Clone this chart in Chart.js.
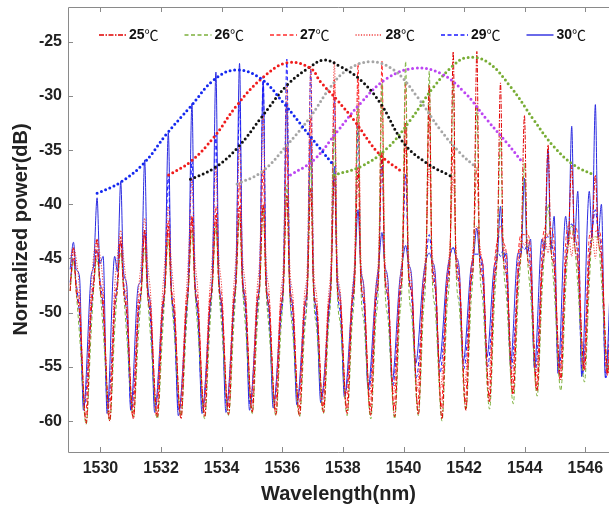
<!DOCTYPE html>
<html>
<head>
<meta charset="utf-8">
<script src="https://cdn.jsdelivr.net/npm/chart.js@4.4.1/dist/chart.umd.min.js"></script>
<style>
  html, body { margin: 0; padding: 0; background: #fff; }
  canvas { display: block; }
</style>
</head>
<body>
<canvas id="chart" width="609" height="507"></canvas>
<script>
// axis ticks
const xTicks = [1530, 1532, 1534, 1536, 1538, 1540, 1542, 1544, 1546];
const yTicks = [-60, -55, -50, -45, -40, -35, -30, -25];

// comb peak wavelengths (nm), shared by all temperatures
const combNm = [1529.11,1529.89,1530.67,1531.46,1532.24,1533.02,1533.81,1534.59,1535.37,1536.15,1536.94,1537.72,1538.50,1539.29,1540.07,1540.85,1541.64,1542.42,1543.20,1543.99,1544.77,1545.55,1546.33];

// per temperature: peak top, shoulder, side lobe, valley floor (dB), one value per comb line
const pk30 = [-43.5,-39.4,-37.9,-35.9,-33.4,-30.7,-27.8,-27.0,-28.7,-30.6,-33.8,-36.5,-40.5,-42.6,-43.8,-44.5,-44.0,-42.2,-40.2,-37.6,-35.0,-32.8,-30.8];
const sh30 = [-46.0,-45.5,-46.2,-46.8,-47.0,-46.6,-46.0,-45.6,-46.2,-46.7,-47.0,-46.4,-45.8,-45.6,-45.4,-45.2,-44.8,-44.8,-45.0,-44.6,-44.2,-43.5,-43.0];
const lb30 = [-46.7,-44.8,-47.5,-49.6,-50.4,-49.8,-49.5,-49.2,-49.8,-49.6,-50.2,-48.8,-48.0,-47.2,-46.8,-46.5,-46.0,-45.6,-44.5,-43.2,-41.1,-38.8,-40.0];
const vl30 = [-59.0,-59.3,-59.0,-59.2,-59.5,-59.3,-59.2,-59.0,-58.8,-58.5,-58.3,-57.8,-57.0,-56.4,-54.7,-54.6,-54.5,-54.1,-54.7,-55.1,-55.6,-55.9,-56.0];

const pk29 = [-45.0,-44.2,-43.5,-42.4,-37.3,-36.0,-33.6,-30.5,-28.2,-26.6,-27.5,-30.1,-32.6,-35.5,-37.2,-42.8,-44.0,-44.6,-44.8,-44.2,-43.0,-41.8,-40.5];
const sh29 = [-47.2,-46.8,-47.0,-47.5,-47.2,-46.6,-46.4,-46.0,-46.5,-46.9,-47.3,-46.8,-46.2,-45.8,-45.6,-45.2,-44.9,-44.6,-44.2,-43.8,-43.4,-43.0,-42.6];
const lb29 = [-50.2,-49.6,-50.5,-51.0,-51.4,-50.8,-50.5,-50.0,-50.6,-51.0,-50.8,-50.2,-49.6,-49.0,-48.6,-48.0,-47.6,-47.2,-46.8,-46.0,-45.4,-44.8,-44.4];
const vl29 = [-58.6,-58.8,-59.0,-58.7,-59.0,-58.8,-58.6,-58.5,-58.2,-58.0,-57.8,-57.5,-57.2,-56.8,-56.0,-55.6,-55.2,-55.0,-55.2,-55.5,-55.7,-55.8,-56.0];

const pk28 = [-44.0,-43.2,-42.4,-41.3,-40.2,-37.6,-36.5,-34.6,-31.8,-29.0,-27.2,-26.8,-28.4,-30.9,-34.6,-36.4,-37.5,-42.0,-43.0,-43.8,-44.5,-44.8,-45.0];
const sh28 = [-45.0,-44.6,-44.8,-45.2,-45.0,-44.6,-44.4,-44.2,-44.6,-45.0,-45.2,-44.8,-44.6,-44.4,-44.2,-44.0,-43.8,-43.6,-43.4,-43.2,-43.0,-42.8,-42.6];
const lb28 = [-48.0,-47.6,-48.2,-48.5,-48.8,-48.2,-48.0,-47.8,-48.2,-48.4,-48.6,-48.2,-47.8,-47.5,-47.2,-47.0,-46.8,-46.4,-46.0,-45.6,-45.2,-45.0,-44.8];
const vl28 = [-58.2,-58.5,-58.6,-58.4,-58.8,-58.5,-58.3,-58.0,-58.2,-58.0,-57.8,-57.6,-57.8,-57.5,-57.2,-57.0,-56.8,-56.6,-56.4,-56.0,-55.8,-55.4,-55.6];

const pk27 = [-45.0,-44.3,-43.4,-42.5,-41.5,-41.0,-40.2,-38.0,-36.8,-34.5,-31.9,-28.5,-27.0,-26.8,-28.7,-31.5,-34.7,-36.6,-42.0,-42.8,-43.0,-43.2,-42.5];
const sh27 = [-47.5,-47.0,-47.2,-47.6,-47.4,-47.0,-46.8,-46.6,-46.8,-47.0,-47.2,-46.8,-46.4,-46.0,-45.6,-45.2,-44.6,-44.0,-43.4,-42.8,-42.2,-42.0,-42.4];
const lb27 = [-49.0,-48.6,-49.0,-49.4,-49.2,-48.8,-48.6,-48.4,-48.8,-49.0,-49.2,-48.8,-48.4,-48.0,-47.6,-47.0,-46.4,-45.6,-44.8,-44.2,-43.6,-43.0,-43.5];
const vl27 = [-59.6,-59.8,-59.5,-59.6,-59.4,-59.2,-59.0,-58.8,-59.0,-59.2,-59.0,-58.8,-59.0,-58.8,-58.6,-58.8,-58.4,-58.2,-57.5,-57.2,-56.2,-55.3,-55.8];

const pk26 = [-45.2,-45.0,-44.4,-44.0,-43.2,-42.4,-42.0,-41.2,-40.2,-38.2,-35.8,-33.0,-30.9,-28.8,-26.8,-27.7,-28.6,-30.9,-33.8,-36.2,-40.0,-42.0,-43.0];
const sh26 = [-48.0,-47.6,-47.8,-48.2,-48.0,-47.6,-47.4,-47.2,-47.6,-47.8,-48.0,-47.6,-47.2,-46.8,-46.4,-46.0,-45.6,-45.2,-44.8,-44.4,-44.0,-43.6,-43.2];
const lb26 = [-52.0,-51.6,-52.2,-52.4,-52.0,-51.8,-51.6,-51.4,-51.8,-52.0,-51.6,-51.2,-51.0,-50.6,-50.2,-49.8,-49.4,-49.0,-48.6,-48.2,-47.8,-47.4,-47.0];
const vl26 = [-60.3,-60.0,-59.6,-59.8,-59.5,-59.8,-59.5,-59.3,-59.5,-59.6,-59.3,-59.5,-59.8,-59.8,-59.5,-60.0,-59.0,-58.9,-58.4,-57.7,-57.2,-56.4,-55.4];

const pk25 = [-44.0,-43.2,-43.0,-42.4,-42.0,-41.2,-41.0,-40.2,-40.0,-39.2,-38.5,-37.3,-36.6,-35.2,-32.5,-29.0,-25.9,-25.9,-28.8,-31.8,-34.5,-36.4,-37.3];
const sh25 = [-48.0,-47.5,-47.8,-48.0,-47.8,-47.4,-47.2,-47.0,-47.4,-47.6,-47.8,-47.4,-47.0,-46.6,-46.2,-45.8,-45.4,-45.0,-44.6,-44.2,-43.8,-43.4,-43.0];
const lb25 = [-50.0,-49.6,-50.0,-50.4,-50.2,-49.8,-49.6,-49.4,-49.8,-50.0,-49.8,-49.4,-49.0,-48.6,-48.2,-47.8,-47.4,-47.0,-46.6,-46.2,-45.8,-45.4,-45.0];
const vl25 = [-60.2,-60.0,-59.8,-59.6,-59.8,-59.6,-59.4,-59.2,-59.4,-59.5,-59.2,-59.3,-59.5,-59.6,-59.4,-59.8,-59.0,-58.2,-57.5,-57.2,-56.2,-55.3,-55.6];

// dotted envelopes through the peak tops
const envBlueNm = [1529.89,1530.66,1531.43,1532.20,1532.97,1533.74,1534.45,1535.28,1536.05,1536.93,1537.64];
const envBlueDb = [-38.99,-37.97,-36.22,-33.45,-31.0,-28.53,-27.61,-28.38,-30.68,-33.76,-36.22];
const envRedNm = [1532.25,1532.97,1533.74,1534.51,1535.33,1536.16,1536.93,1537.26,1537.81,1538.36,1539.18,1539.95];
const envRedDb = [-37.3,-36.07,-33.82,-30.84,-28.38,-26.94,-27.45,-28.69,-30.38,-32.22,-35.3,-37.0];
const envBlackNm = [1532.97,1533.74,1534.51,1535.33,1536.16,1536.93,1537.40,1537.92,1538.58,1539.24,1540.01,1540.78,1541.55];
const envBlackDb = [-37.7,-36.68,-34.83,-31.92,-29.0,-27.3,-26.69,-27.3,-28.53,-30.68,-34.37,-36.22,-37.39];
const envGrayNm = [1534.51,1535.33,1536.16,1536.93,1537.60,1538.14,1538.91,1539.68,1540.45,1541.22,1541.88,1542.37];
const envGrayDb = [-38.13,-37.0,-34.53,-31.92,-29.15,-27.61,-26.85,-27.61,-30.07,-33.15,-35.3,-36.53];
const envPurpleNm = [1536.27,1537.04,1537.81,1538.58,1539.46,1540.39,1541.22,1541.99,1542.76,1543.42,1543.91];
const envPurpleDb = [-37.3,-35.91,-33.3,-30.68,-28.38,-27.45,-27.92,-29.61,-32.22,-34.37,-36.07];
const envGreenNm = [1537.70,1538.58,1539.46,1540.23,1541.0,1541.66,1542.10,1542.76,1543.53,1544.30,1544.96,1545.62,1546.28];
const envGreenDb = [-37.3,-36.53,-34.83,-32.22,-29.15,-27.15,-26.47,-26.85,-29.15,-32.22,-34.68,-36.37,-37.3];

const FONT = '"Liberation Sans", Arial, sans-serif';

// one comb line: shoulder, peak, shoulder, side lobe, valley, side lobe
function spectrum(pk, sh, lb, vl, valleyAt) {
	const pts = [];
	combNm.forEach((p, k) => {
		pts.push(
			{x: p - 0.11, y: sh[k]},
			{x: p, y: pk[k]},
			{x: p + 0.09, y: sh[k]},
			{x: p + 0.2, y: lb[k]},
			{x: p + valleyAt, y: vl[k]},
			{x: p + 0.58, y: lb[k]}
		);
	});
	return pts;
}

function pairs(xs, ys) {
	return xs.map((x, i) => ({x: x, y: ys[i]}));
}

function specSet(label, data, color, dash, order) {
	return {
		label: label, data: data, borderColor: color, borderDash: dash,
		borderWidth: 1, pointRadius: 0, cubicInterpolationMode: 'monotone',
		order: order, inLegend: true
	};
}

function envSet(xs, ys, color) {
	return {
		data: pairs(xs, ys), borderColor: color, borderWidth: 3,
		borderDash: [0, 4.6], borderCapStyle: 'round', pointRadius: 0,
		tension: 0.4, order: 0
	};
}

const datasets = [
	specSet('25℃', spectrum(pk25, sh25, lb25, vl25, 0.42), '#e00000', [5, 1.5, 1.5, 1.5], 1),
	specSet('26℃', spectrum(pk26, sh26, lb26, vl26, 0.42), '#7cb03c', [4, 2.5], 2),
	specSet('27℃', spectrum(pk27, sh27, lb27, vl27, 0.39), '#ff2b2b', [4, 2.5], 3),
	specSet('28℃', spectrum(pk28, sh28, lb28, vl28, 0.37), '#f04040', [1.2, 1.5], 4),
	specSet('29℃', spectrum(pk29, sh29, lb29, vl29, 0.35), '#1a1aff', [4, 2.5], 5),
	specSet('30℃', spectrum(pk30, sh30, lb30, vl30, 0.33), '#2a2ae0', [], 6),
	envSet(envBlueNm, envBlueDb, '#1428f0'),
	envSet(envRedNm, envRedDb, '#f01c1c'),
	envSet(envBlackNm, envBlackDb, '#111111'),
	envSet(envGrayNm, envGrayDb, '#a6a6a6'),
	envSet(envPurpleNm, envPurpleDb, '#bc45f2'),
	envSet(envGreenNm, envGreenDb, '#78ad35')
];

// legend drawn inside the plot, one row
const inlineLegend = {
	id: 'inlineLegend',
	afterDatasetsDraw(chart) {
		const {ctx, chartArea} = chart;
		const y = chartArea.top + 28;
		let x = chartArea.left + 31;
		chart.data.datasets.filter(d => d.inLegend).forEach(d => {
			ctx.save();
			ctx.strokeStyle = d.borderColor;
			ctx.lineWidth = 1.4;
			ctx.setLineDash(d.borderDash);
			ctx.beginPath();
			ctx.moveTo(x, y);
			ctx.lineTo(x + 27, y);
			ctx.stroke();
			ctx.setLineDash([]);
			ctx.fillStyle = '#111';
			ctx.textBaseline = 'middle';
			const num = d.label.replace('℃', '');
			ctx.font = 'bold 14px ' + FONT;
			ctx.fillText(num, x + 30, y);
			const w = ctx.measureText(num).width;
			ctx.font = '14px "Noto Sans CJK SC", sans-serif';
			ctx.fillText('℃', x + 30 + w, y);
			ctx.restore();
			x += 85.5;
		});
	}
};

// grey frame with inward ticks
const frame = {
	id: 'frame',
	afterDraw(chart) {
		const {ctx, chartArea: a, scales} = chart;
		ctx.save();
		ctx.strokeStyle = '#8a8a8a';
		ctx.lineWidth = 1;
		ctx.beginPath();
		ctx.moveTo(a.right, a.top + 0.5);
		ctx.lineTo(a.left + 0.5, a.top + 0.5);
		ctx.lineTo(a.left + 0.5, a.bottom + 0.5);
		ctx.lineTo(a.right, a.bottom + 0.5);
		scales.x.ticks.forEach(t => {
			const px = Math.round(scales.x.getPixelForValue(t.value)) + 0.5;
			ctx.moveTo(px, a.bottom); ctx.lineTo(px, a.bottom - 5);
			ctx.moveTo(px, a.top); ctx.lineTo(px, a.top + 5);
		});
		scales.y.ticks.forEach(t => {
			const py = Math.round(scales.y.getPixelForValue(t.value)) + 0.5;
			ctx.moveTo(a.left, py); ctx.lineTo(a.left + 5, py);
		});
		ctx.stroke();
		ctx.restore();
	}
};

new Chart(document.getElementById('chart').getContext('2d'), {
	type: 'line',
	data: { datasets: datasets },
	options: {
		responsive: false,
		animation: false,
		devicePixelRatio: 1,
		layout: { padding: { top: 7, right: 0, left: 0, bottom: 0 } },
		plugins: { legend: { display: false }, tooltip: { enabled: false } },
		scales: {
			x: {
				type: 'linear',
				min: 1528.93,
				max: 1546.78,
				afterBuildTicks: s => { s.ticks = xTicks.map(v => ({value: v})); },
				afterFit: s => { s.height = 55; s.paddingLeft = 0; s.paddingRight = 0; },
				grid: { display: false, drawTicks: false },
				border: { display: false },
				ticks: {
					padding: 7, color: '#222', callback: v => String(v),
					font: { family: FONT, size: 16, weight: 'bold' }
				},
				title: {
					display: true, text: 'Wavelength(nm)', color: '#222',
					font: { family: FONT, size: 20, weight: 'bold' },
					padding: { top: 4, bottom: 1 }
				}
			},
			y: {
				type: 'linear',
				min: -62.85,
				max: -21.8,
				afterBuildTicks: s => { s.ticks = yTicks.map(v => ({value: v})); },
				afterFit: s => { s.width = 68; s.paddingTop = 0; s.paddingBottom = 0; },
				grid: { display: false, drawTicks: false },
				border: { display: false },
				ticks: { padding: 6, color: '#222', font: { family: FONT, size: 16, weight: 'bold' } },
				title: {
					display: true, text: 'Normalized power(dB)', color: '#222',
					font: { family: FONT, size: 20, weight: 'bold' },
					padding: { top: 9, bottom: 0 }
				}
			}
		}
	},
	plugins: [inlineLegend, frame]
});
</script>
</body>
</html>
